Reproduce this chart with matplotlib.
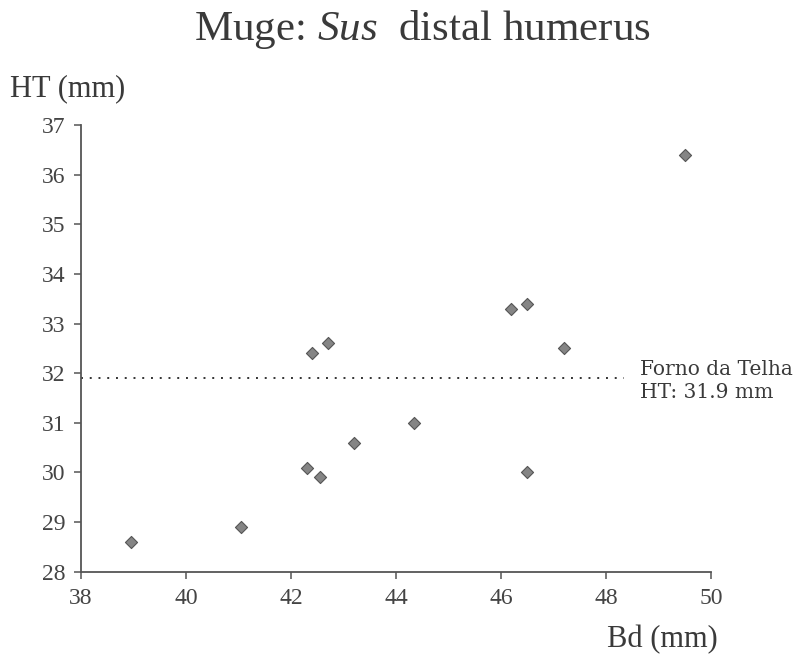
import numpy as np
import matplotlib
matplotlib.use("Agg")
import matplotlib.pyplot as plt

plt.rcParams['font.family'] = ['Liberation Serif', 'DejaVu Serif']
plt.rcParams['mathtext.fontset'] = 'custom'
plt.rcParams['mathtext.rm'] = 'Liberation Serif'
plt.rcParams['mathtext.it'] = 'Liberation Serif:italic'

# Bd and HT measurements (mm)
bd = [38.95, 41.05, 42.3, 42.55, 42.4, 42.7, 43.2, 44.35, 46.2, 46.5, 46.5, 47.2, 49.5]
ht = [28.6, 28.9, 30.1, 29.9, 32.4, 32.6, 30.6, 31.0, 33.3, 33.4, 30.0, 32.5, 36.4]
ref_ht = 31.9
ref_end = 48.35
xticks = [38, 40, 42, 44, 46, 48, 50]
yticks = [28, 29, 30, 31, 32, 33, 34, 35, 36, 37]

txt = '#3a3a3a'
fig = plt.figure(figsize=(7.97, 6.59), dpi=100)
ax = fig.add_axes([0.1016, 0.1325, 0.7904, 0.6775])

ax.scatter(bd, ht, marker='D', s=38, c='#858585', edgecolors='#555555', linewidths=0.8, zorder=3)
ax.plot([xticks[0], ref_end], [ref_ht, ref_ht], linestyle=(0, (1, 3.5)), color='#333333', lw=1.4)

ax.set_xlim(38, 50)
ax.set_ylim(28, 37)
ax.set_xticks(xticks)
ax.set_yticks(yticks)
for s in ['top', 'right']:
    ax.spines[s].set_visible(False)
for s in ['left', 'bottom']:
    ax.spines[s].set_color('#555555')
    ax.spines[s].set_linewidth(1.3)
ax.tick_params(axis='both', colors='#555555', labelcolor='#444444', length=5, width=1.1)
ax.tick_params(axis='y', pad=6)
ax.tick_params(axis='x', pad=7)
for lab in ax.get_xticklabels() + ax.get_yticklabels():
    lab.set_family(['Liberation Serif'])
    lab.set_fontsize(17)

fig.text(0.53, 0.955, r"Muge: $\mathit{Sus}$  distal humerus", ha='center', va='center', fontsize=31, color=txt)
fig.text(0.012, 0.866, "HT (mm)", ha='left', va='center', fontsize=22, color=txt)
fig.text(0.901, 0.029, "Bd (mm)", ha='right', va='center', fontsize=22, color=txt)
ax.text(48.65, ref_ht - 0.05, "Forno da Telha\nHT: 31.9 mm", ha='left', va='center', fontsize=14.5,
        color=txt, linespacing=1.25, clip_on=False, family=['DejaVu Serif'])

fig.savefig("out.png", dpi=100, facecolor='white')
